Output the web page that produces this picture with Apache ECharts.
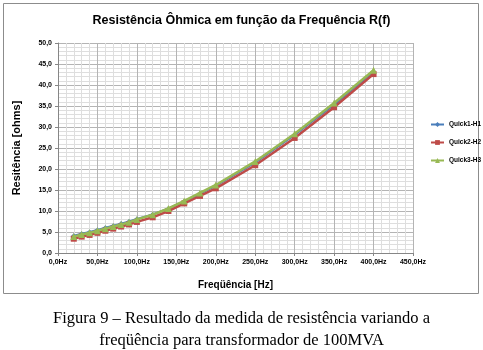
<!DOCTYPE html>
<html><head><meta charset="utf-8">
<script src="https://cdn.jsdelivr.net/npm/echarts@6/dist/echarts.min.js"></script>
<style>html,body{margin:0;padding:0;background:#fff;}#c{width:483px;height:350px;}</style>
</head><body><div id="c"></div>
<script>
const freqs = [20,30,40,50,60,70,80,90,100,120,140,160,180,200,250,300,350,400];
const quick1 = [4.1,4.6,5.0,5.5,6.0,6.5,7.0,7.5,8.1,9.2,10.6,12.3,14.1,16.0,21.5,28.1,35.3,43.2];
const quick2 = [3.4,3.9,4.3,4.8,5.3,5.8,6.3,6.8,7.4,8.5,10.0,11.8,13.6,15.4,20.9,27.4,34.7,42.6];
const quick3 = [3.9,4.4,4.8,5.3,5.8,6.3,6.8,7.3,8.0,9.1,10.6,12.4,14.3,16.2,21.8,28.4,35.7,43.5];
const seriesNames = ['Quick1-H1','Quick2-H2','Quick3-H3'];
const titleText = 'Resistência Ôhmica em função da Frequência R(f)';
const yTitle = 'Resitência [ohms]';
const xTitle = 'Freqüência [Hz]';
const caption1 = 'Figura 9 – Resultado da medida de resistência variando a';
const caption2 = 'freqüência para transformador de 100MVA';

const pair = arr => freqs.map((f,i)=>[f,arr[i]]);
const chart = echarts.init(document.getElementById('c'), null, {renderer:'canvas'});
const fmt1 = v => v.toFixed(1).replace('.',',');
chart.setOption({
  animation:false,
  title:[
    {text:titleText,left:'center',top:9,textStyle:{fontFamily:'Liberation Sans',fontSize:12.5,fontWeight:'bold',color:'#000'}},
    {text:caption1,left:'center',top:305,textStyle:{fontFamily:'Liberation Serif',fontSize:16.5,fontWeight:'normal',color:'#000'}},
    {text:caption2,left:'center',top:327,textStyle:{fontFamily:'Liberation Serif',fontSize:16.5,fontWeight:'normal',color:'#000'}}
  ],
  graphic:[{type:'rect',shape:{x:3.5,y:3.5,width:475,height:290},style:{fill:'none',stroke:'#8c8c8c',lineWidth:1},silent:true,z:-1}],
  legend:{orient:'vertical',left:425,top:116,itemGap:11,itemWidth:13,itemHeight:6,
    textStyle:{fontFamily:'Liberation Sans',fontSize:6.5,fontWeight:'bold',color:'#000'},
    data:seriesNames},
  grid:{left:58,right:70,top:43,bottom:97},
  xAxis:{type:'value',min:0,max:450,interval:50,
    name:xTitle,nameLocation:'middle',nameGap:27,
    nameTextStyle:{fontFamily:'Liberation Sans',fontSize:10,fontWeight:'bold',color:'#000'},
    axisLine:{lineStyle:{color:'#868686'}},
    axisTick:{show:true,length:3,lineStyle:{color:'#868686'}},
    axisLabel:{formatter:v=>fmt1(v)+'Hz',fontFamily:'Liberation Sans',fontSize:7,fontWeight:'bold',color:'#000',margin:6},
    splitLine:{show:true,lineStyle:{color:'#b4b4b4',width:1}},
    minorTick:{show:false,splitNumber:5},
    minorSplitLine:{show:true,lineStyle:{color:'#dedede',width:1}}
  },
  yAxis:{type:'value',min:0,max:50,interval:5,
    name:yTitle,nameLocation:'middle',nameGap:36,
    nameTextStyle:{fontFamily:'Liberation Sans',fontSize:11,fontWeight:'bold',color:'#000'},
    axisLine:{show:true,lineStyle:{color:'#868686'}},
    axisTick:{show:true,length:3,lineStyle:{color:'#868686'}},
    axisLabel:{formatter:v=>fmt1(v),fontFamily:'Liberation Sans',fontSize:7,fontWeight:'bold',color:'#000',margin:6},
    splitLine:{show:true,lineStyle:{color:'#b4b4b4',width:1}},
    minorTick:{show:false,splitNumber:5},
    minorSplitLine:{show:true,lineStyle:{color:'#dedede',width:1}}
  },
  series:[
    {name:seriesNames[0],type:'line',data:pair(quick1),color:'#4a7ebb',symbol:'diamond',symbolSize:5,lineStyle:{width:2},z:2},
    {name:seriesNames[1],type:'line',data:pair(quick2),color:'#be4b48',symbol:'rect',symbolSize:6,lineStyle:{width:2.5},z:3},
    {name:seriesNames[2],type:'line',data:pair(quick3),color:'#98b954',symbol:'triangle',symbolSize:7,lineStyle:{width:2.5},z:4}
  ]
});
</script></body></html>
